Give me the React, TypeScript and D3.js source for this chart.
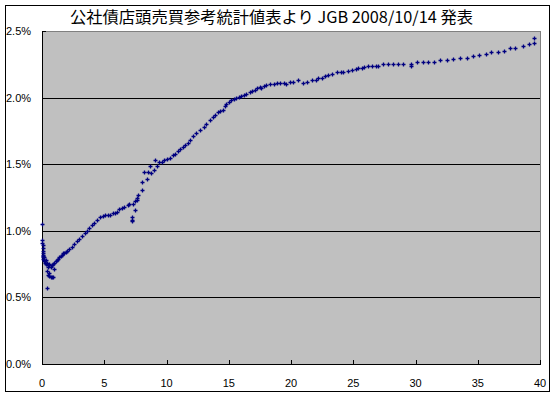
import React from "react";
import * as d3 from "d3";

const titleText = "公社債店頭売買参考統計値表より JGB 2008/10/14 発表";
const xTicks = [0, 5, 10, 15, 20, 25, 30, 35, 40];
const yTicks = [0, 0.5, 1.0, 1.5, 2.0, 2.5];

// maturity (years)
const maturities = [
  0.02, 0.03, 0.04, 0.05, 0.06, 0.07, 0.08, 0.1, 0.12, 0.05, 0.08, 0.15, 0.18, 0.2, 0.25, 0.3, 0.35, 0.4, 0.45, 0.5,
  0.55, 0.6, 0.7, 0.8, 0.9, 1.0, 1.1, 1.2, 1.3, 1.4, 1.5,
  0.37, 0.5, 0.6, 0.7, 0.8, 0.9, 0.43, 0.97, 0.55,
  1.6, 1.7, 1.8, 1.9, 2.0, 2.2, 2.4, 2.6, 2.8, 3.0, 3.2, 3.45, 3.6, 3.8, 4.0, 4.2, 4.4, 4.66, 4.9, 5.1,
  5.3, 5.5, 5.7, 5.86, 6.0, 6.2, 6.4, 6.6, 6.9, 7.0, 7.2, 7.2, 7.2, 7.3, 7.47, 7.5, 7.6, 7.6, 7.7, 8.0,
  8.03, 8.2, 8.4, 8.5, 8.67, 8.73, 9.0, 9.08, 9.2, 9.4, 9.6, 9.8, 10.0, 10.3, 10.5, 10.7, 10.9, 11.1, 11.3, 11.5,
  11.7, 11.9, 12.1, 12.4, 12.7, 13.0, 13.2, 13.5, 13.7, 13.9, 14.1, 14.3, 14.5, 14.7, 14.8, 15.0, 15.2, 15.4, 15.6, 15.8,
  16.0, 16.2, 16.4, 16.7, 16.9, 17.1, 17.3, 17.5, 17.6, 17.8, 18.0, 18.3, 18.6, 18.85, 19.1, 19.4, 19.6, 19.9, 20.2, 20.6,
  21.0, 21.3, 21.7, 22.0, 22.2, 22.5, 22.7, 23.0, 23.3, 23.7, 24.0, 24.2, 24.6, 24.9, 25.2, 25.4, 25.7, 25.9, 26.2, 26.5,
  26.8, 27.0, 27.4, 27.8, 28.2, 28.6, 29.0, 29.6, 29.6, 30.1, 30.6, 31.0, 31.5, 32.0, 32.5, 33.0, 33.6, 34.1, 34.6, 35.1,
  35.7, 36.1, 36.6, 37.1, 37.6, 38.0, 38.6, 39.1, 39.5, 39.5,
];

// yield (%)
const yields = [
  1.05, 0.93, 0.91, 0.89, 0.87, 0.85, 0.83, 0.82, 0.81, 0.8, 0.79, 0.8, 0.78, 0.77, 0.76, 0.78, 0.75, 0.76, 0.74, 0.73,
  0.75, 0.74, 0.73, 0.74, 0.75, 0.76, 0.77, 0.78, 0.79, 0.8, 0.81,
  0.7, 0.67, 0.66, 0.65, 0.65, 0.65, 0.57, 0.71, 0.68,
  0.82, 0.83, 0.83, 0.84, 0.85, 0.86, 0.88, 0.9, 0.92, 0.94, 0.96, 0.98, 1.0, 1.02, 1.04, 1.06, 1.08, 1.1, 1.11, 1.12,
  1.115, 1.12, 1.13, 1.135, 1.14, 1.16, 1.17, 1.18, 1.19, 1.2, 1.1, 1.08, 1.07, 1.2, 1.155, 1.22, 1.25, 1.23, 1.27, 1.31,
  1.37, 1.44, 1.39, 1.44, 1.49, 1.435, 1.46, 1.53, 1.49, 1.52, 1.52, 1.53, 1.54, 1.55, 1.57, 1.58, 1.6, 1.615, 1.63, 1.645,
  1.66, 1.685, 1.71, 1.735, 1.76, 1.78, 1.8, 1.83, 1.855, 1.87, 1.89, 1.9, 1.91, 1.94, 1.95, 1.965, 1.98, 1.99, 1.995, 2.005,
  2.01, 2.02, 2.03, 2.04, 2.05, 2.06, 2.07, 2.08, 2.07, 2.09, 2.095, 2.1, 2.105, 2.11, 2.11, 2.11, 2.105, 2.115, 2.12, 2.13,
  2.11, 2.12, 2.13, 2.135, 2.145, 2.15, 2.16, 2.17, 2.18, 2.19, 2.19, 2.19, 2.2, 2.21, 2.215, 2.22, 2.225, 2.23, 2.235, 2.24,
  2.24, 2.24, 2.25, 2.25, 2.25, 2.25, 2.25, 2.25, 2.235, 2.265, 2.265, 2.265, 2.265, 2.28, 2.28, 2.29, 2.295, 2.3, 2.31, 2.32,
  2.325, 2.34, 2.34, 2.35, 2.37, 2.37, 2.39, 2.4, 2.41, 2.445,
];

export default function App() {
  const W = 555;
  const H = 397;
  const left = 42;
  const right = 540;
  const top = 31;
  const bottom = 364;
  const x = d3.scaleLinear().domain([0, 40]).range([left, right]);
  const y = d3.scaleLinear().domain([0, 2.5]).range([bottom, top]);
  const font = "'Liberation Sans', Arial, sans-serif";
  const pts = maturities.map((m, i) => [m, yields[i]] as [number, number]);

  return (
    <svg
      width={W}
      height={H}
      style={{ position: "absolute", left: 0, top: 0, background: "#fff" }}
    >
      <rect x={0} y={0} width={W} height={H} fill="#fff" />
      <rect x={5.5} y={5.5} width={544} height={386} fill="#fff" stroke="#000" strokeWidth={1} />
      <text
        x={271.5}
        y={23}
        textAnchor="middle"
        fontFamily="'Noto Sans CJK JP', sans-serif"
        fontSize={16}
        textLength={403}
        lengthAdjust="spacingAndGlyphs"
        fill="#000"
      >
        {titleText}
      </text>
      <rect
        x={left + 0.5}
        y={top + 0.5}
        width={right - left}
        height={bottom - top}
        fill="#C0C0C0"
        stroke="#808080"
        strokeWidth={1}
      />
      {yTicks.filter((t) => t > 0 && t < 2.5).map((t) => (
        <line
          key={"g" + t}
          x1={left}
          x2={right}
          y1={Math.round(y(t)) + 0.5}
          y2={Math.round(y(t)) + 0.5}
          stroke="#000"
          strokeWidth={1}
        />
      ))}
      <line x1={left} x2={left + 4} y1={top + 0.5} y2={top + 0.5} stroke="#000" />
      <line x1={left + 0.5} x2={left + 0.5} y1={top} y2={bottom + 1} stroke="#000" />
      <line x1={left} x2={right + 1} y1={bottom + 0.5} y2={bottom + 0.5} stroke="#000" />
      {xTicks.map((t) => (
        <line
          key={"xt" + t}
          x1={Math.round(x(t)) + 0.5}
          x2={Math.round(x(t)) + 0.5}
          y1={bottom - 4}
          y2={bottom}
          stroke="#000"
        />
      ))}
      {yTicks.map((t) => (
        <text
          key={"yl" + t}
          x={6}
          y={y(t) + 4}
          fontFamily={font}
          fontSize={11}
          fill="#000"
        >
          {d3.format(".1f")(t) + "%"}
        </text>
      ))}
      {xTicks.map((t) => (
        <text
          key={"xl" + t}
          x={x(t)}
          y={387}
          textAnchor="middle"
          fontFamily={font}
          fontSize={11}
          fill="#000"
        >
          {t}
        </text>
      ))}
      <g stroke="#000080" strokeWidth={1.3} fill="none">
        {pts.map(([m, v], i) => {
          const cx = Math.round(x(m)) + 0.5;
          const cy = Math.round(y(v)) + 0.5;
          return (
            <path
              key={"p" + i}
              d={`M${cx - 2},${cy}H${cx + 2}M${cx},${cy - 2}V${cy + 2}`}
            />
          );
        })}
      </g>
    </svg>
  );
}
